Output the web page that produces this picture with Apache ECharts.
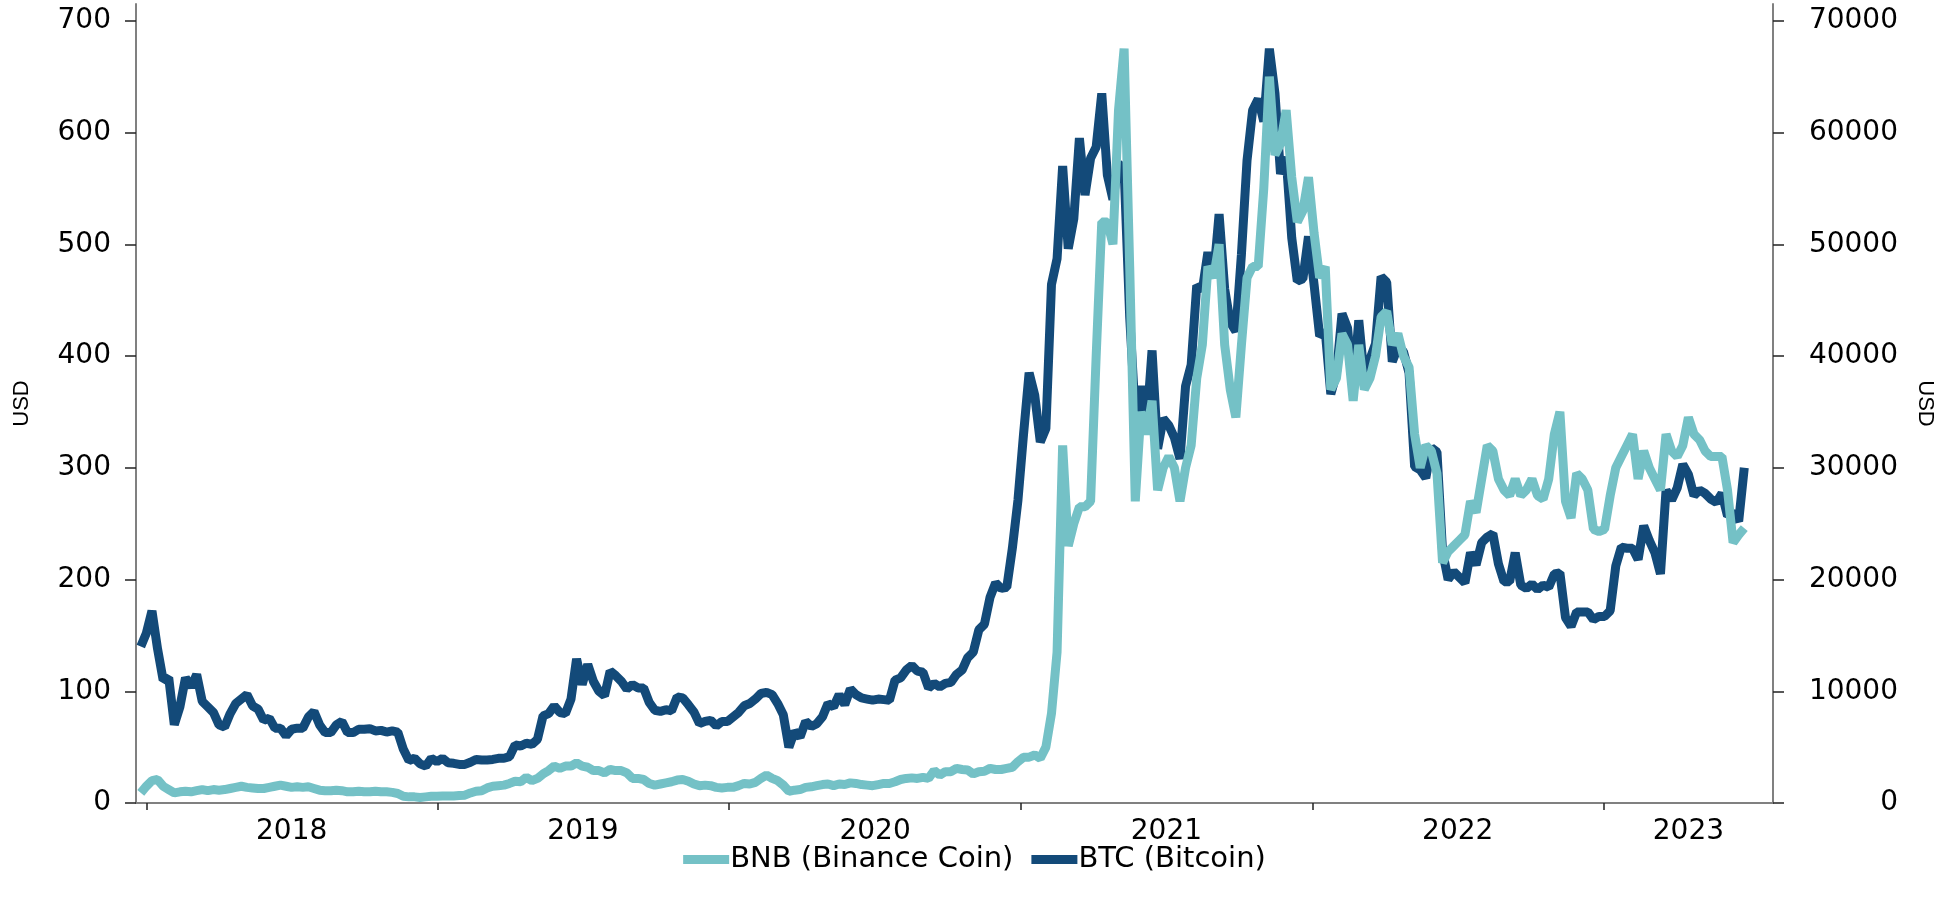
<!DOCTYPE html>
<html>
<head>
<meta charset="utf-8">
<script src="https://cdn.jsdelivr.net/npm/echarts@6/dist/echarts.min.js"></script>
<style>
html,body{margin:0;padding:0;background:#fff;}
#chart{width:1949px;height:904px;}
</style>
</head>
<body>
<div id="chart"></div>
<script>
// ---- Data (weekly, Mondays, starting 2017-12-25) ----
var startDate = '2017-12-25';
var stepDays = 7;

var btc2017 = [14000];
var btc2018 = [15200,17200,13800,11000,11200,7000,8600,11200,10400,11500,9100,8600,8100,7000,6800,8000,8900,9300,9700,8700,8400,7400,7600,6700,6700,6000,6600,6700,6700,7700,8200,7000,6300,6300,7000,7300,6300,6300,6600,6600,6650,6450,6500,6350,6450,6350,4800,3800,4000,3500,3300,4000,3700];
var btc2019 = [4000,3600,3550,3450,3450,3650,3900,3850,3850,3900,4000,4000,4150,5200,5100,5350,5250,5700,7800,8000,8700,8100,8000,9300,12900,10600,12400,10900,10000,9600,11800,11400,10900,10200,10600,10300,10300,9000,8300,8200,8350,8250,9500,9400,8800,8150,7100,7300,7400,6900,7300,7300];
var btc2020 = [7700,8100,8700,8900,9300,9800,9900,9700,8900,7900,5000,6400,5900,7300,6850,7100,7700,8900,8600,9700,8800,10200,9700,9400,9300,9200,9300,9250,9200,11000,11200,11900,12300,11800,11700,10300,10700,10400,10700,10800,11500,11900,13000,13500,15500,16000,18400,19700,19200,19300,22800,27100];
var btc2021 = [33000,38500,36500,32300,33500,46400,48700,57000,49600,52300,59500,54400,57700,58700,63500,56200,54000,57200,56700,43500,34700,37300,33600,40500,31700,34400,33800,32700,30800,37300,39200,46300,45900,49300,47000,52700,46000,43000,42200,49100,57500,62000,63000,61000,67500,63500,56300,57800,50600,46700,46900,50700];
var btc2022 = [46400,41800,42200,36600,38400,43800,42500,37000,43200,38000,39700,41100,47100,46600,39500,40800,40400,38500,30100,29800,29100,31800,31400,22500,20000,20700,20200,19700,22400,21300,23300,23800,24100,21400,19800,19800,22400,19500,19200,19600,19100,19500,19300,20500,20600,16600,15800,17100,17100,17100,16400,16700];
var btc2023 = [16700,17200,21200,22900,22800,22800,21800,24800,23500,22400,20500,28000,27100,28200,30300,29400,27500,28000,27700,27200,26900,27700,25700,26000,25200,30000];

var bnb2017 = [9];
var bnb2018 = [15,20,21,15,12,9,10,10.5,10,11,12,11,12,11.5,12,13,14,15,14,13.5,13,13,14,15,16,15,14,14.5,14,14.5,13,11.5,11,11,11.5,11,10,10,10.5,10,10,10.5,10,10,9.5,8.5,6,5.5,5.5,5,5.5,6,6];
var bnb2019 = [6.2,6.3,6.3,6.7,7,9,10.5,11,13.5,15,15.5,16,17.5,19.5,19,23,20,22,26,29,33,31,33,33,36,33,32,29,29,27,30,29,29,27,22,22,21,17.5,16,17,18,19,20.5,21,19.5,17,15.5,16,15.5,14,13.5,14];
var bnb2020 = [14,15.5,17.5,17,18.5,22,25,22,20,16,10.5,11.5,12,14,14.5,15.5,16.5,17,15.5,17,16.5,18,17.5,16.5,16,15.5,16.5,17.5,17.5,19,21,22,22.5,22,23,22,29,25,28,28,31,30,29.5,26,28,28.5,31,30,30,31,32,37];
var bnb2021 = [41,41,43,40,50,80,135,320,230,250,265,265,270,400,520,520,500,620,675,480,270,350,330,360,280,300,310,300,270,300,320,380,410,480,470,500,410,370,345,410,470,480,480,550,650,580,590,620,560,520,530,560];
var bnb2022 = [510,470,480,370,380,420,410,360,410,370,380,400,435,440,410,420,400,390,330,300,320,315,295,215,225,230,235,240,270,260,290,320,315,290,280,275,290,275,280,290,275,272,290,330,350,270,255,295,290,280,245,243];
var bnb2023 = [245,275,300,310,320,330,290,315,300,290,280,330,315,310,320,345,330,325,315,310,310,310,280,233,240,246];

var leftTicks = [0,100,200,300,400,500,600,700];
var rightTicks = [0,10000,20000,30000,40000,50000,60000,70000];
var yearTicks = ['2018-01-01','2019-01-01','2020-01-01','2021-01-01','2022-01-01','2023-01-01'];
var yearLabelPos = ['2018-07-02','2019-07-02','2020-07-02','2021-07-02','2022-07-02','2023-04-17'];

// ---- Build ----
function ts(s){var p=s.split('-');return Date.UTC(+p[0],+p[1]-1,+p[2]);}
var btc = [].concat(btc2017,btc2018,btc2019,btc2020,btc2021,btc2022,btc2023);
var bnb = [].concat(bnb2017,bnb2018,bnb2019,bnb2020,bnb2021,bnb2022,bnb2023);
var t0 = ts(startDate), day = 86400000;
function pairs(arr){return arr.map(function(v,i){return [t0 + i*stepDays*day, v];});}

var font = 'DejaVu Sans';
var chart = echarts.init(document.getElementById('chart'), null, {renderer:'canvas'});
chart.setOption({
  animation:false,
  backgroundColor:'#ffffff',
  grid:{left:136,right:176,top:4,bottom:101,containLabel:false},
  legend:{
    data:['BNB (Binance Coin)','BTC (Bitcoin)'],
    left:'center', top:840, icon:'rect', itemWidth:46, itemHeight:9, itemGap:18,
    textStyle:{fontFamily:font,fontSize:29,color:'#000',padding:[0,0,0,-4]}
  },
  xAxis:{
    type:'value', min:ts('2017-12-19'), max:ts('2023-08-01'),
    splitLine:{show:false},
    axisLine:{show:true,onZero:false,lineStyle:{color:'#808080',width:2}},
    axisTick:{show:true,length:7,customValues:yearTicks.map(ts),lineStyle:{color:'#222',width:1.5}},
    axisLabel:{customValues:yearLabelPos.map(ts),margin:15,fontFamily:font,fontSize:28,color:'#000',
      formatter:function(v){return String(new Date(v).getUTCFullYear());}}
  },
  yAxis:[{
    type:'value', min:0, max:715, position:'left',
    name:'USD', nameLocation:'middle', nameGap:103, nameRotate:90,
    nameTextStyle:{fontFamily:'Liberation Sans',fontSize:22,color:'#000'},
    splitLine:{show:false},
    axisLine:{show:true,lineStyle:{color:'#808080',width:2}},
    axisTick:{show:true,length:11,customValues:leftTicks,lineStyle:{color:'#222',width:1.5}},
    axisLabel:{customValues:leftTicks,margin:25,fontFamily:font,fontSize:28,color:'#000'}
  },{
    type:'value', min:0, max:71500, position:'right',
    name:'USD', nameLocation:'middle', nameGap:141, nameRotate:-90,
    nameTextStyle:{fontFamily:'Liberation Sans',fontSize:22,color:'#000'},
    splitLine:{show:false},
    axisLine:{show:true,lineStyle:{color:'#808080',width:2}},
    axisTick:{show:true,length:11,customValues:rightTicks,lineStyle:{color:'#222',width:1.5}},
    axisLabel:{customValues:rightTicks,margin:125,align:'right',fontFamily:font,fontSize:28,color:'#000',
      formatter:function(v){return String(v);}}
  }],
  series:[{
    name:'BNB (Binance Coin)', type:'line', yAxisIndex:0, data:pairs(bnb),
    showSymbol:false, z:3, lineStyle:{color:'#74C1C6',width:9}, itemStyle:{color:'#74C1C6'}
  },{
    name:'BTC (Bitcoin)', type:'line', yAxisIndex:1, data:pairs(btc),
    showSymbol:false, z:2, lineStyle:{color:'#134A79',width:9}, itemStyle:{color:'#134A79'}
  }]
});
</script>
</body>
</html>
